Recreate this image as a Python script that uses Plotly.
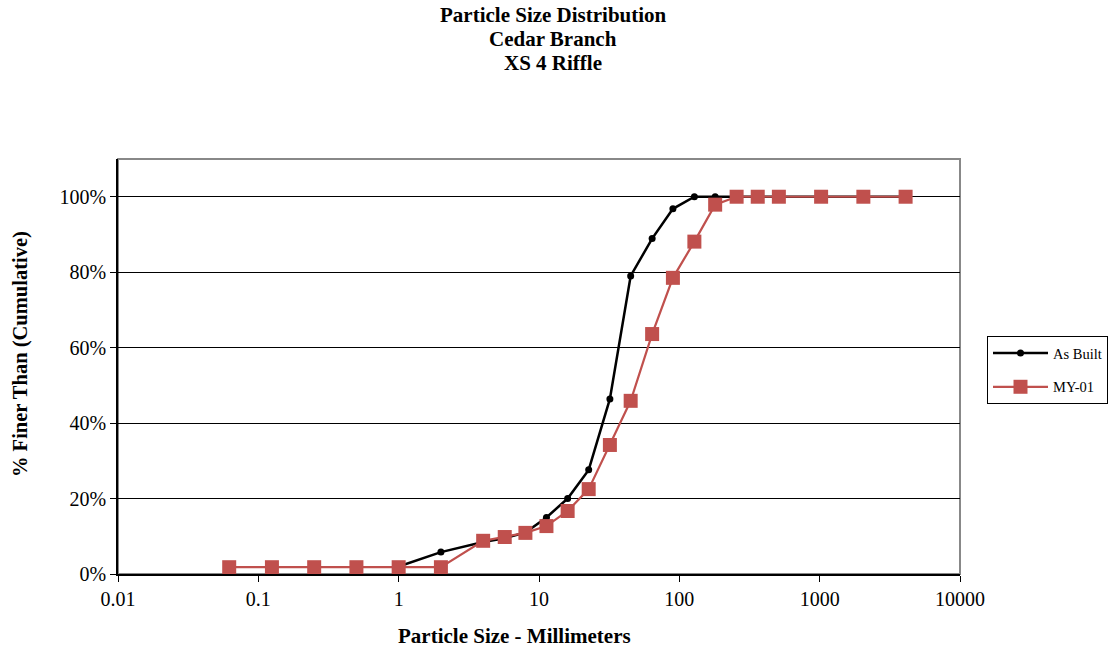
import plotly.graph_objects as go

# Data
as_built_size = [1, 2, 4, 5.7, 8, 11.3, 16, 22.6, 32, 45, 64, 90, 128, 180, 256, 362, 512, 1024, 2048, 4096]
as_built_pct = [2, 5.8, 8.5, 9.5, 11, 15, 20, 27.6, 46.4, 79, 88.9, 96.8, 100, 100, 100, 100, 100, 100, 100, 100]

my01_size = [0.062, 0.125, 0.25, 0.5, 1, 2, 4, 5.7, 8, 11.3, 16, 22.6, 32, 45, 64, 90, 128, 180, 256, 362, 512, 1024, 2048, 4096]
my01_pct = [1.8, 1.8, 1.8, 1.8, 1.8, 1.8, 8.8, 9.8, 10.9, 12.7, 16.7, 22.5, 34.2, 45.9, 63.6, 78.5, 88.1, 97.9, 100, 100, 100, 100, 100, 100]

x_tick_vals = [0.01, 0.1, 1, 10, 100, 1000, 10000]
x_tick_text = ["0.01", "0.1", "1", "10", "100", "1000", "10000"]
y_tick_vals = [0, 20, 40, 60, 80, 100]
y_tick_text = ["0%", "20%", "40%", "60%", "80%", "100%"]

title_lines = ["Particle Size Distribution", "Cedar Branch", "XS 4 Riffle"]

FONT = "Liberation Serif, Times New Roman, serif"
RED = "#C0504D"

W, H = 1120, 653
L, R, T, B = 118, 160, 159, 79
PW, PH = W - L - R, H - T - B


def px_x(px):
    return (px - L) / PW


def px_y(py):
    return (H - B - py) / PH


fig = go.Figure()
fig.add_trace(go.Scatter(
    x=as_built_size, y=as_built_pct, name="As Built", mode="lines+markers",
    legendgroup="a",
    line=dict(color="black", width=2.5),
    marker=dict(symbol="circle", size=7, color="black"),
))
fig.add_trace(go.Scatter(
    x=my01_size, y=my01_pct, name="MY-01", mode="lines+markers",
    legendgroup="b",
    line=dict(color=RED, width=2.2),
    marker=dict(symbol="square", size=14, color=RED),
))

annotations = []
for i, line in enumerate(title_lines):
    annotations.append(dict(
        text="<b>" + line + "</b>", xref="paper", yref="paper",
        x=px_x(553), y=px_y(15 + 24 * i), xanchor="center", yanchor="middle",
        showarrow=False, font=dict(family=FONT, size=21, color="black"),
    ))
annotations.append(dict(
    text="<b>Particle Size - Millimeters</b>", xref="paper", yref="paper",
    x=px_x(514), y=px_y(636), xanchor="center", yanchor="middle",
    showarrow=False, font=dict(family=FONT, size=21, color="black"),
))
annotations.append(dict(
    text="<b>% Finer Than (Cumulative)</b>", xref="paper", yref="paper",
    x=px_x(20), y=px_y(354), xanchor="center", yanchor="middle", textangle=-90,
    showarrow=False, font=dict(family=FONT, size=20.5, color="black"),
))

fig.update_layout(
    width=W, height=H,
    margin=dict(l=L, r=R, t=T, b=B),
    paper_bgcolor="white", plot_bgcolor="white",
    font=dict(family=FONT, size=20, color="black"),
    showlegend=True,
    legend=dict(
        x=px_x(987), xanchor="left", y=px_y(370), yanchor="middle",
        bordercolor="black", borderwidth=1, bgcolor="white",
        font=dict(family=FONT, size=14.5, color="black"),
        traceorder="grouped", tracegroupgap=12, itemwidth=55,
    ),
    shapes=[dict(type="rect", xref="paper", yref="paper", x0=0, y0=0, x1=1, y1=1,
                 line=dict(color="#888888", width=2), layer="below")],
    annotations=annotations,
)

fig.update_xaxes(
    type="log", range=[-2, 4],
    tickvals=x_tick_vals, ticktext=x_tick_text,
    showgrid=False, zeroline=False,
    showline=True, linecolor="black", linewidth=1.5,
    ticks="outside", ticklen=6, tickcolor="black",
    tickfont=dict(family=FONT, size=20),
)
fig.update_yaxes(
    range=[0, 110],
    tickvals=y_tick_vals, ticktext=y_tick_text,
    showgrid=True, gridcolor="black", gridwidth=1,
    zeroline=False,
    showline=True, linecolor="black", linewidth=1.5,
    ticks="outside", ticklen=6, tickcolor="black",
    tickfont=dict(family=FONT, size=20),
)

fig.write_html("out.html")
